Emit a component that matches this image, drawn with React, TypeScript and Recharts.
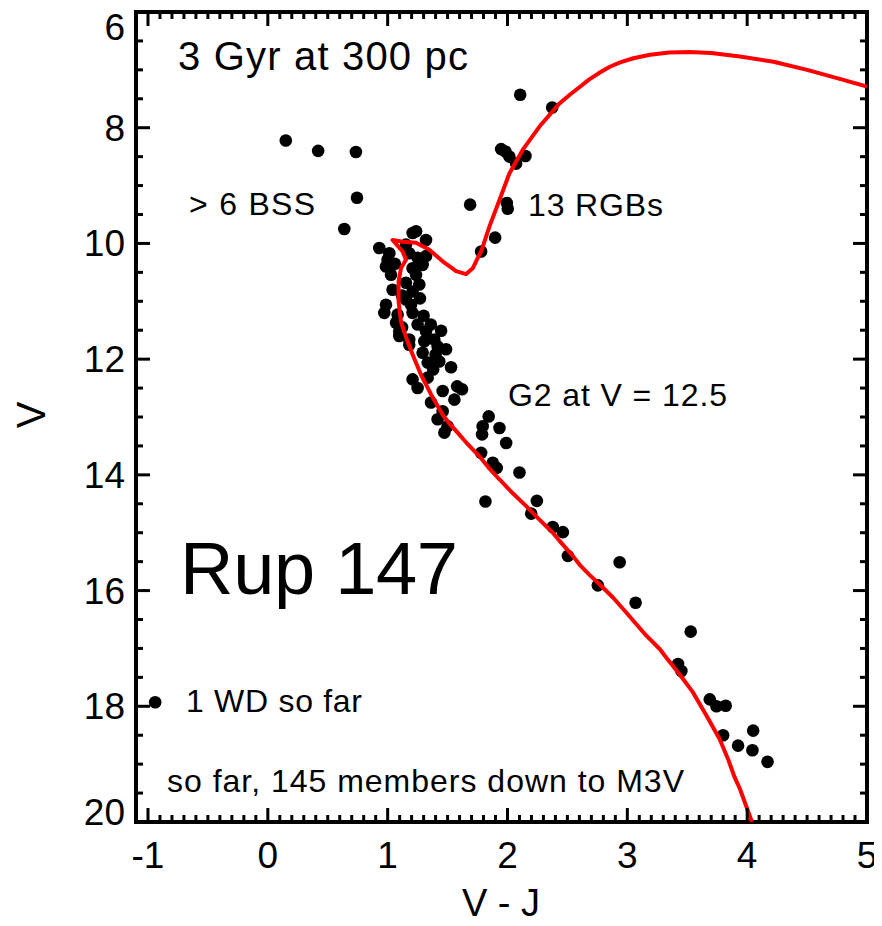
import React from 'react';
import { ComposedChart, Scatter, XAxis, YAxis } from 'recharts';

// [V - J, V] pairs
const blueStragglers: [number, number][] = [
  [0.15, 8.22], [0.42, 8.4], [0.735, 8.42], [0.744, 9.21], [0.638, 9.75],
];

const whiteDwarfs: [number, number][] = [[-0.94, 17.93]];

const redGiants: [number, number][] = [
  [2.106, 7.43], [2.373, 7.65], [1.947, 8.37], [1.983, 8.41], [2.016, 8.5],
  [2.072, 8.62], [2.15, 8.49], [1.688, 9.33], [1.994, 9.3], [2.002, 9.4],
  [1.897, 9.9], [1.78, 10.14],
];

const turnoffStars: [number, number][] = [
  [0.93, 10.08], [1.014, 10.17], [0.999, 10.28], [1.208, 9.82], [1.237, 9.79],
  [1.32, 9.94], [1.153, 10.02], [1.18, 10.17], [1.25, 10.25], [1.32, 10.22],
  [1.292, 10.37], [1.208, 10.43], [0.986, 10.4], [1.028, 10.54], [1.237, 10.54],
  [1.153, 10.68], [1.264, 10.71], [1.041, 10.8], [1.208, 10.83], [0.986, 11.06],
  [1.153, 10.97], [1.195, 11.06], [0.972, 11.2], [1.083, 11.23], [1.208, 11.2],
  [1.07, 11.37], [1.25, 11.4], [1.097, 11.52], [1.32, 11.52], [1.446, 11.51],
  [1.18, 11.66], [1.389, 11.66], [1.06, 10.35], [1.12, 10.9], [1.27, 10.95],
  [1.3, 11.25], [1.12, 11.45], [1.36, 11.4],
];

const upperMS: [number, number][] = [
  [1.097, 11.6], [1.18, 11.75], [1.306, 11.69], [1.417, 11.78], [1.487, 11.83],
  [1.292, 11.89], [1.4, 11.92], [1.334, 12.06], [1.431, 12.04], [1.529, 12.14],
  [1.38, 12.18], [1.208, 12.35], [1.334, 12.32], [1.25, 12.5], [1.459, 12.55],
  [1.58, 12.47], [1.62, 12.52], [1.557, 12.7], [1.362, 12.75], [1.459, 12.9],
  [1.417, 13.04], [1.5, 13.16], [1.473, 13.27],
];

const lowerMS: [number, number][] = [
  [1.843, 12.99], [1.793, 13.16], [1.933, 13.19], [1.788, 13.3], [1.989, 13.45],
  [1.78, 13.62], [1.877, 13.79], [1.91, 13.88], [2.1, 13.96], [1.816, 14.46],
  [2.245, 14.45], [2.198, 14.67], [2.378, 14.9], [2.462, 14.99], [2.504, 15.4],
  [2.936, 15.51], [2.754, 15.91], [3.069, 16.21], [3.529, 16.71], [3.423, 17.27],
  [3.451, 17.39], [3.688, 17.88], [3.744, 18.0], [3.821, 17.99], [3.799, 18.5],
  [3.924, 18.68], [4.05, 18.42], [4.044, 18.76], [4.17, 18.96],
];

// 3 Gyr isochrone, from the bottom of the main sequence up through the hook and giant branch
const isochrone: [number, number][] = [
  [4.04, 20.0], [3.94, 19.43], [3.896, 19.23], [3.84, 18.91], [3.771, 18.57],
  [3.66, 18.16], [3.548, 17.76], [3.437, 17.45], [3.326, 17.16], [3.27, 17.01],
  [3.159, 16.78], [3.07, 16.57], [2.991, 16.38], [2.88, 16.12], [2.768, 15.89],
  [2.68, 15.72], [2.601, 15.55], [2.545, 15.4], [2.434, 15.14], [2.378, 15.0],
  [2.26, 14.76], [2.156, 14.54], [2.04, 14.31], [1.933, 14.08], [1.84, 13.87],
  [1.766, 13.68], [1.668, 13.47], [1.571, 13.24], [1.51, 13.1], [1.459, 12.96],
  [1.362, 12.61], [1.278, 12.27], [1.208, 11.92], [1.153, 11.62], [1.111, 11.35],
  [1.091, 11.0], [1.091, 10.66], [1.111, 10.43], [1.153, 10.28], [1.125, 10.14],
  [1.041, 9.94], [1.125, 9.97], [1.237, 9.99], [1.348, 10.11], [1.459, 10.31],
  [1.571, 10.48], [1.655, 10.53], [1.71, 10.43], [1.752, 10.25], [1.78, 10.14],
  [1.849, 9.71], [1.933, 9.25], [2.016, 8.79], [2.128, 8.38], [2.267, 7.98],
  [2.434, 7.58], [2.52, 7.43], [2.6, 7.3], [2.68, 7.17], [2.76, 7.06],
  [2.85, 6.95], [2.94, 6.87], [3.05, 6.8], [3.19, 6.74], [3.35, 6.7],
  [3.52, 6.69], [3.7, 6.71], [3.94, 6.77], [4.22, 6.86], [4.5, 7.0],
  [4.78, 7.16], [5.0, 7.29],
];

const xTickLabels = [-1, 0, 1, 2, 3, 4, 5];
const yTickLabels = [6, 8, 10, 12, 14, 16, 18, 20];

const xMinorTicks = Array.from({ length: 61 }, (_, i) => Math.round((-1 + i * 0.1) * 10) / 10);
const yMinorTicks = Array.from({ length: 29 }, (_, i) => 6 + i * 0.5);

const toPoints = (arr: [number, number][]) => arr.map(([vj, v]) => ({ vj, v }));
const stars = toPoints([
  ...blueStragglers, ...whiteDwarfs, ...redGiants, ...turnoffStars, ...upperMS, ...lowerMS,
]);
const isoPoints = toPoints(isochrone);

const FONT = '"Liberation Sans", Arial, Helvetica, sans-serif';
const frame = { stroke: '#000', strokeWidth: 4, strokeLinecap: 'square' as const };

const makeTick = (side: 'bottom' | 'top' | 'left' | 'right') => (props: any) => {
  const { x, y, payload } = props;
  const v = payload.value;
  const isX = side === 'bottom' || side === 'top';
  const major = isX ? xTickLabels.includes(v) : yTickLabels.includes(v);
  const len = major ? 14 : 7;
  let x2 = x;
  let y2 = y;
  if (side === 'bottom') y2 = y - len;
  if (side === 'top') y2 = y + len;
  if (side === 'left') x2 = x + len;
  if (side === 'right') x2 = x - len;
  let label = null;
  if (major && side === 'bottom') {
    label = (
      <text x={x} y={y + 46} textAnchor="middle" fontSize={37} fontFamily={FONT} fill="#000">
        {v}
      </text>
    );
  }
  if (major && side === 'left') {
    let dy = 13;
    if (v === 6) dy = 28;
    if (v === 20) dy = 3;
    label = (
      <text x={x - 11} y={y + dy} textAnchor="end" fontSize={37} fontFamily={FONT} fill="#000">
        {v}
      </text>
    );
  }
  return (
    <g>
      <line x1={x} y1={y} x2={x2} y2={y2} stroke="#000" strokeWidth={3} />
      {label}
    </g>
  );
};

const Dot = (props: any) => <circle cx={props.cx} cy={props.cy} r={6.3} fill="#000" />;

export default function App() {
  return (
    <div style={{ position: 'relative', width: 874, height: 918 }}>
      <ComposedChart width={874} height={918} margin={{ top: 3, right: 14, bottom: 0, left: 0 }}>
        <XAxis
          xAxisId="b"
          type="number"
          dataKey="vj"
          domain={[-1.1, 5]}
          ticks={xMinorTicks}
          interval={0}
          allowDataOverflow
          height={104}
          tickSize={0}
          tickMargin={0}
          tickLine={false}
          axisLine={frame}
          tick={makeTick('bottom')}
        />
        <XAxis
          xAxisId="t"
          orientation="top"
          type="number"
          dataKey="vj"
          domain={[-1.1, 5]}
          ticks={xMinorTicks}
          interval={0}
          allowDataOverflow
          height={1}
          tickSize={0}
          tickMargin={0}
          tickLine={false}
          axisLine={frame}
          tick={makeTick('top')}
        />
        <YAxis
          yAxisId="l"
          type="number"
          dataKey="v"
          domain={[6, 20]}
          reversed
          ticks={yMinorTicks}
          interval={0}
          allowDataOverflow
          width={128}
          tickSize={0}
          tickMargin={0}
          tickLine={false}
          axisLine={frame}
          tick={makeTick('left')}
        />
        <YAxis
          yAxisId="r"
          orientation="right"
          type="number"
          dataKey="v"
          domain={[6, 20]}
          reversed
          ticks={yMinorTicks}
          interval={0}
          allowDataOverflow
          width={1}
          tickSize={0}
          tickMargin={0}
          tickLine={false}
          axisLine={frame}
          tick={makeTick('right')}
        />
        <Scatter
          xAxisId="b"
          yAxisId="l"
          data={stars}
          shape={Dot}
          isAnimationActive={false}
        />
        <Scatter
          xAxisId="t"
          yAxisId="r"
          data={isoPoints}
          line={{ stroke: '#ff0000', strokeWidth: 4, fill: 'none', strokeLinejoin: 'round' }}
          lineJointType="linear"
          shape={() => <g />}
          isAnimationActive={false}
        />
      </ComposedChart>
      <svg
        width={874}
        height={918}
        style={{ position: 'absolute', left: 0, top: 0, pointerEvents: 'none' }}
        fontFamily={FONT}
      >
        <text x={170} y={62} fontSize={40} textLength={290} lengthAdjust="spacing">3 Gyr at 300 pc</text>
        <text x={181} y={207} fontSize={32} textLength={126} lengthAdjust="spacing">&gt; 6 BSS</text>
        <text x={520} y={208} fontSize={32} textLength={135} lengthAdjust="spacing">13 RGBs</text>
        <text x={500} y={398} fontSize={32} textLength={219} lengthAdjust="spacing">G2 at V = 12.5</text>
        <text x={172} y={586} fontSize={74} textLength={278} lengthAdjust="spacing">Rup 147</text>
        <text x={178} y={704} fontSize={32} textLength={176} lengthAdjust="spacing">1 WD so far</text>
        <text x={159} y={784} fontSize={32} textLength={517} lengthAdjust="spacing">so far, 145 members down to M3V</text>
        <text x={493} y={908} fontSize={38} textAnchor="middle">V - J</text>
        <text
          x={23}
          y={407}
          fontSize={40}
          textAnchor="middle"
          dominantBaseline="central"
          transform="rotate(-90 23 407)"
        >
          V
        </text>
      </svg>
    </div>
  );
}
